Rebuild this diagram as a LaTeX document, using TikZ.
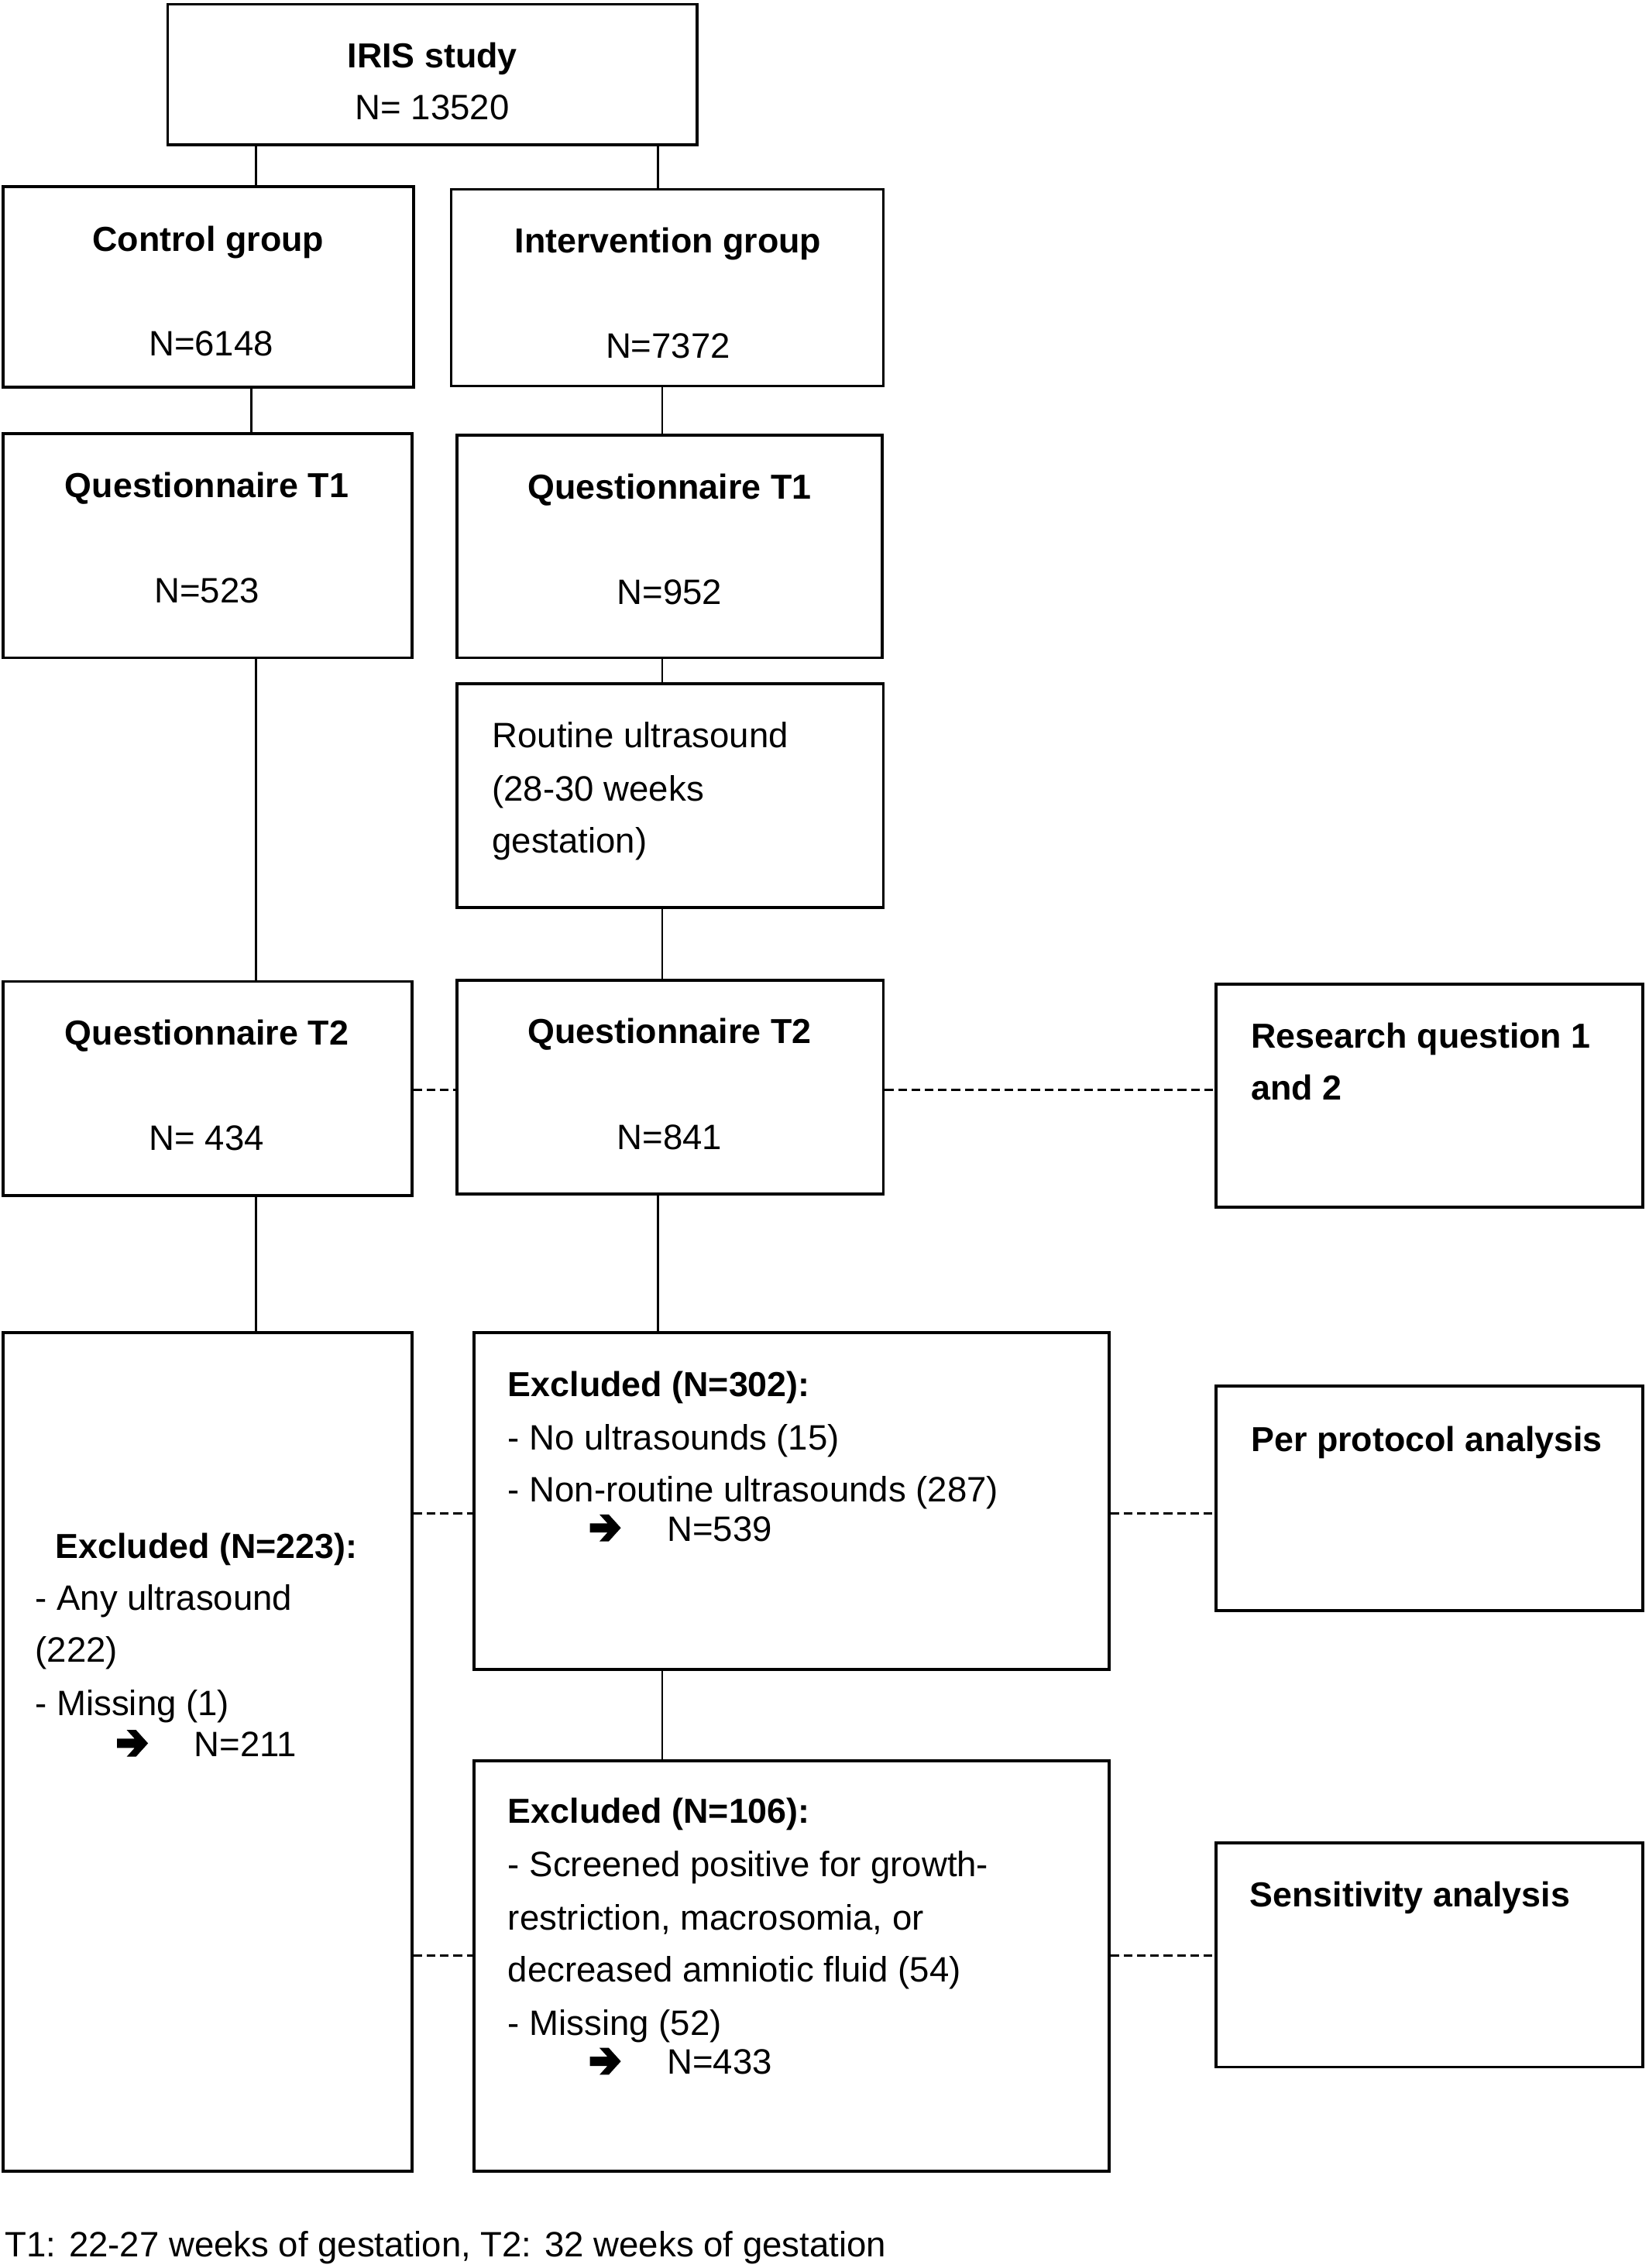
\documentclass[tikz,border=0pt]{standalone}
\usepackage{fontspec}
\setmainfont{Liberation Sans}
\usetikzlibrary{fit}
\begin{document}
\begin{tikzpicture}[x=0.5pt,y=-0.5pt,
  box/.style={draw,line width=1pt,inner sep=0pt,rectangle},
  conn/.style={line width=0.8pt},
  dconn/.style={line width=0.85pt,dash pattern=on 3pt off 1.6pt},
  ttl/.style={font=\fontsize{12}{14}\selectfont\bfseries,anchor=base,inner sep=0pt},
  num/.style={font=\fontsize{12.2}{14}\selectfont,anchor=base,inner sep=0pt},
  lt/.style={font=\fontsize{12.2}{14}\selectfont,anchor=base west,inner sep=0pt},
  ltb/.style={font=\fontsize{12}{14}\selectfont\bfseries,anchor=base west,inner sep=0pt},
  harrow/.pic={\fill (0,-3.2) -- (12.1,-3.2) -- (6.6,-9.3) -- (13,-9.3) -- (21.4,0) -- (13,9.3) -- (6.6,9.3) -- (12.1,3.2) -- (0,3.2) -- cycle;}]
\useasboundingbox (0,0) rectangle (1140,1569);
\fill[white] (0,0) rectangle (1140,1569);
% boxes
\node[box,fit={(116,3)(482,100)}] (iris) {};
\node[box,fit={(2,129)(286,268)}] (ctrl) {};
\node[box,fit={(312,131)(611,267)}] (intv) {};
\node[box,fit={(2,300)(285,455)}] (qc1) {};
\node[box,fit={(316,301)(610,455)}] (qi1) {};
\node[box,fit={(316,473)(611,628)}] (rus) {};
\node[box,fit={(2,679)(285,827)}] (qc2) {};
\node[box,fit={(316,678)(611,826)}] (qi2) {};
\node[box,fit={(841,681)(1136,835)}] (rq) {};
\node[box,fit={(2,922)(285,1502)}] (ex223) {};
\node[box,fit={(328,922)(767,1155)}] (ex302) {};
\node[box,fit={(841,959)(1136,1114)}] (pp) {};
\node[box,fit={(328,1218)(767,1502)}] (ex106) {};
\node[box,fit={(841,1275)(1136,1430)}] (sa) {};
% texts
\node[ttl] (t1) at (299,47) {IRIS study};
\node[num] (t2) at (299,83) {N= 13520};
\node[ttl] (t3) at (144,174) {Control group};
\node[num] (t4) at (146,246) {N=6148};
\node[ttl] (t5) at (462,175) {Intervention group};
\node[num] (t6) at (462,248) {N=7372};
\node[ttl] (t7) at (143,344) {Questionnaire T1};
\node[num] (t8) at (143,417) {N=523};
\node[ttl] (t9) at (463,345) {Questionnaire T1};
\node[num] (t10) at (463,418) {N=952};
\node[lt] (t11) at (340,517) {Routine ultrasound};
\node[lt] (t12) at (340,554) {(28-30 weeks};
\node[lt] (t13) at (340,590) {gestation)};
\node[ttl] (t14) at (143,723) {Questionnaire T2};
\node[num] (t15) at (143,796) {N= 434};
\node[ttl] (t16) at (463,722) {Questionnaire T2};
\node[num] (t17) at (463,795) {N=841};
\node[ltb] (t18) at (865,725) {Research question 1};
\node[ltb] (t19) at (865,761) {and 2};
\node[ltb] (t20) at (865,1004) {Per protocol analysis};
\node[ltb] (t21) at (864,1319) {Sensitivity analysis};
\node[ltb] (t22) at (351,966) {Excluded (N=302):};
\node[lt] (t23) at (351,1003) {- No ultrasounds (15)};
\node[lt] (t24) at (351,1039) {- Non-routine ultrasounds (287)};
\pic at (408,1057) {harrow};
\node[lt] (t26) at (461,1066) {N=539};
\node[ltb] (t27) at (38,1078) {Excluded (N=223):};
\node[lt] (t28) at (24,1114) {- Any ultrasound};
\node[lt] (t29) at (24,1150) {(222)};
\node[lt] (t30) at (24,1187) {- Missing (1)};
\pic at (81,1206) {harrow};
\node[lt] (t32) at (134,1215) {N=211};
\node[ltb] (t33) at (351,1261) {Excluded (N=106):};
\node[lt] (t34) at (351,1298) {- Screened positive for growth-};
\node[lt] (t35) at (351,1335) {restriction, macrosomia, or};
\node[lt] (t36) at (351,1371) {decreased amniotic fluid (54)};
\node[lt] (t37) at (351,1408) {- Missing (52)};
\pic at (408,1426) {harrow};
\node[lt] (t39) at (461,1435) {N=433};
\node[lt] (t40) at (3,1561) {T1: 22-27 weeks of gestation, T2: 32 weeks of gestation};
% solid connectors
\draw[conn] (iris.south -| 177,0) -- (ctrl.north -| 177,0);
\draw[conn] (iris.south -| 455,0) -- (intv.north -| 455,0);
\draw[conn] (ctrl.south -| 174,0) -- (qc1.north -| 174,0);
\draw[conn] (intv.south -| 458,0) -- (qi1.north -| 458,0);
\draw[conn] (qc1.south -| 177,0) -- (qc2.north -| 177,0);
\draw[conn] (qi1.south -| 458,0) -- (rus.north -| 458,0);
\draw[conn] (rus.south -| 458,0) -- (qi2.north -| 458,0);
\draw[conn] (qc2.south -| 177,0) -- (ex223.north -| 177,0);
\draw[conn] (qi2.south -| 455,0) -- (ex302.north -| 455,0);
\draw[conn] (ex302.south -| 458,0) -- (ex106.north -| 458,0);
% dashed connectors
\draw[dconn] (qc2.east |- 0,754) -- (qi2.west |- 0,754);
\draw[dconn] (qi2.east |- 0,754) -- (rq.west |- 0,754);
\draw[dconn] (ex223.east |- 0,1047) -- (ex302.west |- 0,1047);
\draw[dconn] (ex302.east |- 0,1047) -- (pp.west |- 0,1047);
\draw[dconn] (ex223.east |- 0,1353) -- (ex106.west |- 0,1353);
\draw[dconn] (ex106.east |- 0,1353) -- (sa.west |- 0,1353);
\end{tikzpicture}
\end{document}
